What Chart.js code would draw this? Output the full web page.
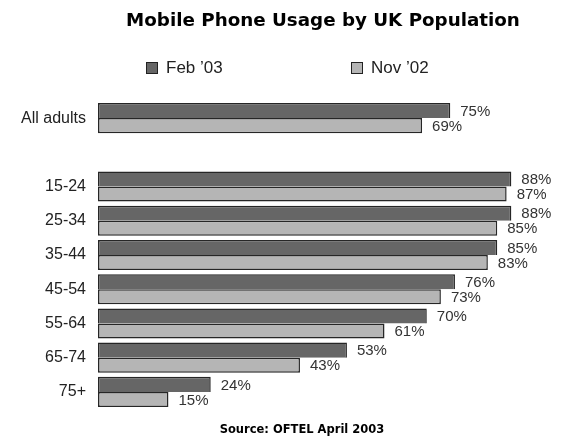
<!DOCTYPE html>
<html>
<head>
<meta charset="utf-8">
<script src="https://cdn.jsdelivr.net/npm/chart.js@4"></script>
<style>
  body { margin: 0; background: #fff; }
  #wrap { position: relative; width: 563px; height: 440px; overflow: hidden; }
  #chart { position: absolute; left: 0; top: 0; }
  .title { position: absolute; left: 0; top: 9px; width: 646px; text-align: center;
           font: bold 18.3px "DejaVu Sans", Verdana, sans-serif; color: #000; }
  .source { position: absolute; left: 0; top: 422px; width: 604px; text-align: center;
            font: bold 11.5px "DejaVu Sans", Verdana, sans-serif; color: #000; }
  #legend { position: absolute; top: 58px; left: 146px; font: 17px "Liberation Sans", Arial, sans-serif; color: #222; }
  #legend span.item { position: absolute; white-space: nowrap; line-height: 20px; }
  #legend span.box { display: inline-block; width: 10px; height: 10px; border: 1px solid #222;
                     margin-right: 8px; vertical-align: -1px; }
</style>
</head>
<body>
<div id="wrap">
  <canvas id="chart" width="563" height="440"></canvas>
  <div class="title">Mobile Phone Usage by UK Population</div>
  <div id="legend"></div>
  <div class="source">Source: OFTEL April 2003</div>
</div>
<script>
var groups = ["All adults", "", "15-24", "25-34", "35-44", "45-54", "55-64", "65-74", "75+"];
var feb03 = [75, null, 88, 88, 85, 76, 70, 53, 24];
var nov02 = [69, null, 87, 85, 83, 73, 61, 43, 15];
var seriesNames = ["Feb \u201903", "Nov \u201902"];
var seriesColors = ["#666666", "#b5b5b5"];

// percent labels just past the end of each bar
var valueLabels = {
  id: "valueLabels",
  afterDatasetsDraw: function (chart) {
    var ctx = chart.ctx;
    ctx.save();
    ctx.font = "15px 'Liberation Sans', Arial, sans-serif";
    ctx.fillStyle = "#333";
    ctx.textBaseline = "middle";
    ctx.textAlign = "left";
    chart.data.datasets.forEach(function (ds, i) {
      chart.getDatasetMeta(i).data.forEach(function (bar, j) {
        var v = ds.data[j];
        if (v == null) return;
        ctx.fillText(v + "%", bar.x + 10, bar.y + 1);
      });
    });
    ctx.restore();
  }
};

// upper bar drops its bottom edge so the pair shares one line
function makeSet(i, values) {
  return {
    label: seriesNames[i],
    data: values,
    backgroundColor: seriesColors[i],
    borderColor: "#262626",
    borderWidth: 1.5,
    borderSkipped: i === 0 ? "bottom" : false,
    categoryPercentage: 0.88,
    barPercentage: 1.0
  };
}

var ctx = document.getElementById("chart");

var chart = new Chart(ctx, {
  type: "bar",
  data: {
    labels: groups,
    datasets: [makeSet(0, feb03), makeSet(1, nov02)]
  },
  options: {
    indexAxis: "y",
    responsive: false,
    animation: false,
    devicePixelRatio: 1,
    layout: { padding: { top: 101, bottom: 31, left: 0, right: 0 } },
    scales: {
      x: { display: false, min: 0, max: 99 },
      y: {
        grid: { display: false, drawTicks: false },
        border: { display: false },
        ticks: {
          padding: 12,
          color: "#222",
          font: { family: "'Liberation Sans', Arial, sans-serif", size: 16 }
        },
        afterFit: function (scale) { scale.width = 98; }
      }
    },
    plugins: {
      legend: { display: false },
      tooltip: { enabled: false }
    }
  },
  plugins: [valueLabels]
});

// legend built from the datasets
var legend = document.getElementById("legend");
chart.data.datasets.forEach(function (ds, i) {
  var item = document.createElement("span");
  item.className = "item";
  item.style.left = (i * 205) + "px";
  item.innerHTML = '<span class="box" style="background:' + ds.backgroundColor + '"></span>' + ds.label;
  legend.appendChild(item);
});
</script>
</body>
</html>
